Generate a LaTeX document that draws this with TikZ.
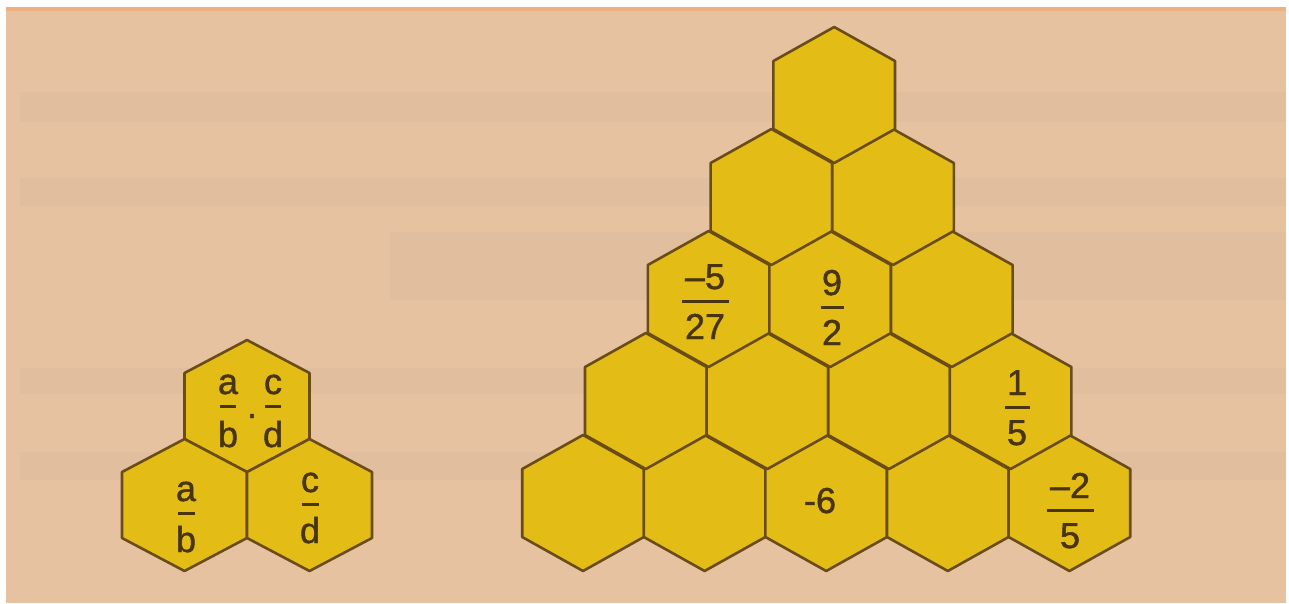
\documentclass[tikz,border=0pt]{standalone}
\usepackage{fontspec}
\setmainfont{Liberation Sans}
\newfontfamily\hexfont[FakeBold=1.3]{Liberation Sans}
\usetikzlibrary{calc}
\definecolor{bgpeach}{RGB}{230,194,160}
\definecolor{bgband}{RGB}{150,130,120}
\definecolor{topband}{RGB}{238,176,126}
\definecolor{hexfill}{RGB}{227,189,22}
\definecolor{hexline}{RGB}{105,76,22}
\definecolor{inkbrown}{RGB}{72,52,14}
\tikzset{
  hexcell/.style={fill=hexfill, draw=hexline, line width=2.6pt, line join=round},
  numtext/.style={text=inkbrown, inner sep=0pt, font=\hexfont\fontsize{36}{42}\selectfont},
  fracbar/.style={draw=inkbrown, line width=3pt},
  faintband/.style={fill=bgband, opacity=0.06}
}
% #1 name, #2 x, #3 y, #4 half width, #5 half height (vertex radius)
\newcommand\hexcell[5]{%
  \coordinate (#1) at (#2,#3);
  \draw[hexcell] ($(#1)+(0,-#5)$) -- ($(#1)+(#4,-#5/2)$) -- ($(#1)+(#4,#5/2)$)
    -- ($(#1)+(0,#5)$) -- ($(#1)+(-#4,#5/2)$) -- ($(#1)+(-#4,-#5/2)$) -- cycle;}
% #1 name, #2 x, #3 y of bar centre, #4 numerator, #5 denominator, #6 bar width, #7 den baseline offset
\newcommand\fracat[7]{%
  \coordinate (#1) at (#2,#3);
  \node[numtext, anchor=base] (#1-n) at ($(#1)+(0,-12)$) {#4};
  \node[numtext, anchor=base] (#1-d) at ($(#1)+(0,#7)$) {#5};
  \draw[fracbar] ($(#1)+(-#6/2,0)$) -- ($(#1)+(#6/2,0)$);}
\begin{document}
\begin{tikzpicture}[x=1pt,y=-1pt]
\useasboundingbox (0,0) rectangle (1289,603);
\fill[white] (0,0) rectangle (1289,603);
\fill[bgpeach] (6,7) rectangle (1286,603);
\fill[topband] (6,7) rectangle (1286,11);
% faint blurred print lines of the page behind
\fill[faintband] (20,92) rectangle (1286,122);
\fill[faintband] (20,178) rectangle (1286,206);
\fill[faintband] (390,232) rectangle (1286,300);
\fill[faintband] (20,368) rectangle (1286,394);
\fill[faintband] (20,452) rectangle (1286,480);

% ---------- small pyramid ----------
\hexcell{s1}{247}{406}{62.5}{66}
\hexcell{s2}{184.5}{505}{62.5}{66}
\hexcell{s3}{309.5}{505}{62.5}{66}
\fracat{sa}{228}{406}{a}{b}{16}{41}
\node[numtext, anchor=base] (sdot) at (252,418) {.};
\fracat{sc}{273}{406}{c}{d}{16}{41}
\fracat{sab}{186}{513}{a}{b}{17}{39}
\fracat{scd}{310}{504}{c}{d}{17}{39}

% ---------- big pyramid ----------
% row r=0 (bottom)
\hexcell{b00}{583}{503}{60.8}{68}
\hexcell{b01}{704.6}{503}{60.8}{68}
\hexcell{b02}{826.2}{503}{60.8}{68}
\hexcell{b03}{947.8}{503}{60.8}{68}
\hexcell{b04}{1069.4}{503}{60.8}{68}
% row r=1
\hexcell{b10}{645.8}{401}{60.8}{68}
\hexcell{b11}{767.4}{401}{60.8}{68}
\hexcell{b12}{889}{401}{60.8}{68}
\hexcell{b13}{1010.6}{401}{60.8}{68}
% row r=2
\hexcell{b20}{708.6}{299}{60.8}{68}
\hexcell{b21}{830.2}{299}{60.8}{68}
\hexcell{b22}{951.8}{299}{60.8}{68}
% row r=3
\hexcell{b30}{771.4}{197}{60.8}{68}
\hexcell{b31}{893}{197}{60.8}{68}
% row r=4 (top)
\hexcell{b40}{834.2}{95}{60.8}{68}

% numbers
\fracat{fA}{705}{301}{–5}{27}{47}{38}
\fracat{fB}{832}{307}{9}{2}{23}{38}
\fracat{fC}{1017}{407}{1}{5}{25}{38}
\fracat{fD}{1070}{510}{–2}{5}{47}{38}
\node[numtext, anchor=base] (fE) at (820,513) {-6};
\end{tikzpicture}
\end{document}
